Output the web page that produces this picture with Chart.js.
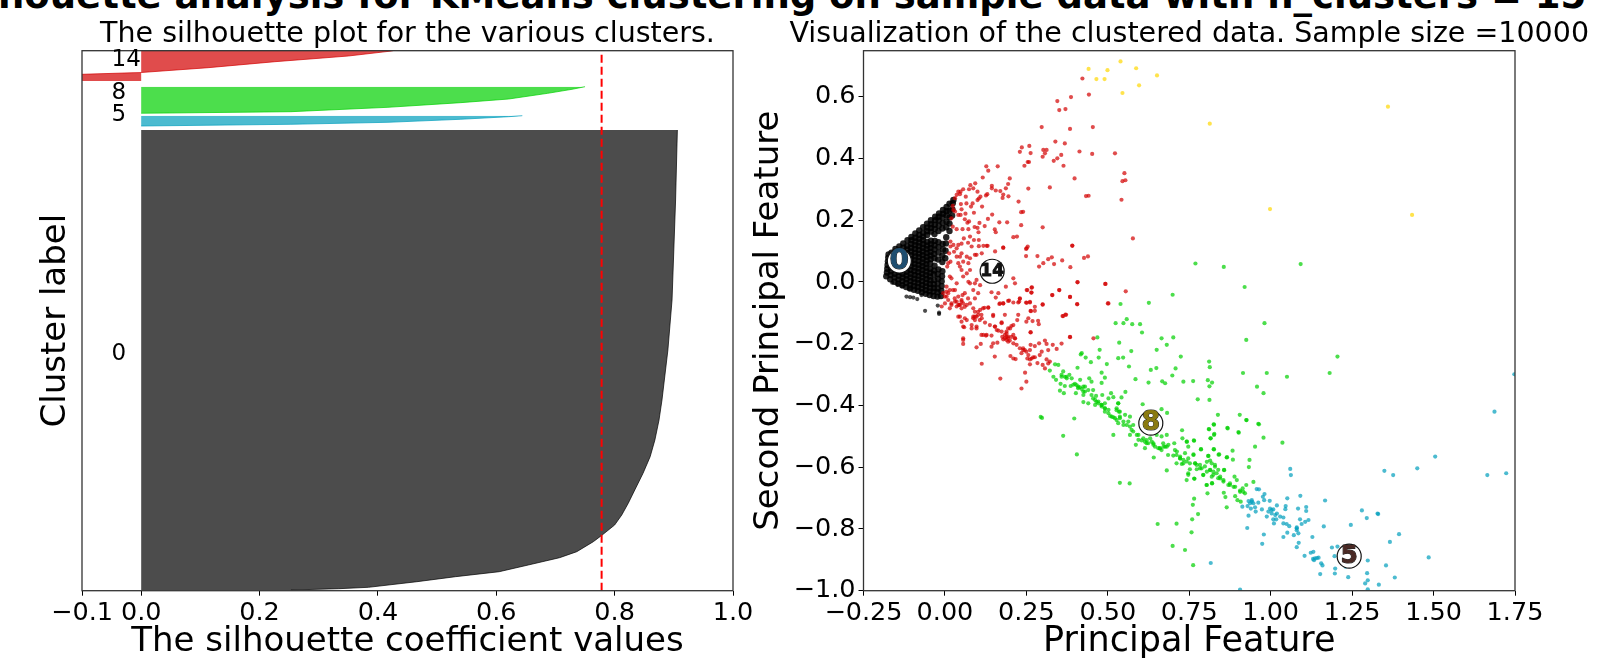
<!DOCTYPE html>
<html>
<head>
<meta charset="utf-8">
<title>Silhouette analysis</title>
<script src="https://cdn.jsdelivr.net/npm/chart.js@4/dist/chart.umd.js"></script>
<style>
  html, body { margin: 0; padding: 0; background: #fff; overflow: hidden; }
  #page { position: relative; width: 1606px; height: 658px; overflow: hidden; }
  canvas { position: absolute; top: 0; }
  #suptitle { position: absolute; left: -54px; width: 1606px; top: -26px; text-align: center; white-space: nowrap;
    font: bold 37px "DejaVu Sans"; color: #000; }
</style>
</head>
<body>
<div id="page">
  <div id="suptitle">Silhouette analysis for KMeans clustering on sample data with n_clusters = 15</div>
  <canvas id="silhouette" width="800" height="658" style="left:0"></canvas>
  <canvas id="clusters" width="866" height="658" style="left:740px"></canvas>
</div>
<script>
// left panel: [silhouette value, row in the sorted sample stack]
const silhouette0 = [[0.253,0],[0.334,13],[0.384,27],[0.466,83],[0.531,133],[0.605,183],[0.654,250],[0.707,323],[0.736,383],[0.764,483],[0.779,550],[0.8,650],[0.812,750],[0.823,867],[0.834,1000],[0.848,1167],[0.86,1333],[0.868,1500],[0.875,1700],[0.88,1900],[0.89,2400],[0.897,2900],[0.9,3400],[0.903,3900],[0.906,4600]];
const silhouette5 = [[0,4640],[0.253,4657],[0.417,4677],[0.539,4707],[0.621,4733],[0.644,4743]];
const silhouette8 = [[0,4767],[0.253,4783],[0.417,4827],[0.539,4873],[0.621,4910],[0.687,4967],[0.728,5007],[0.75,5033]];
const silhouette14 = [[-0.13,5090],[-0.125,5150],[-0.1,5157],[0,5175],[0.113,5223],[0.226,5283],[0.35,5340],[0.423,5390],[0.43,5400]];
const silhouetteLabels = [["14",5300],["8",4970],["5",4750],["0",2360]];
const silhouetteAvg = 0.778;
const leftXTicks = [-0.1,0,0.2,0.4,0.6,0.8,1];

// right panel: [first principal feature, second principal feature]
const cluster0 = [
[-0.18,0.014],[-0.178,0.026],[-0.177,0.038],[-0.176,0.05],[-0.175,0.062],[-0.174,0.074],[-0.173,0.084],
[-0.168,0.004],[-0.167,0.018],[-0.166,0.03],[-0.166,0.042],[-0.165,0.054],[-0.165,0.066],[-0.164,0.078],[-0.164,0.09],
[-0.155,-0.004],[-0.155,0.01],[-0.154,0.022],[-0.154,0.034],[-0.153,0.046],[-0.154,0.058],[-0.153,0.07],[-0.153,0.082],[-0.152,0.094],[-0.152,0.102],
[-0.143,-0.01],[-0.143,0.003],[-0.142,0.015],[-0.142,0.027],[-0.141,0.039],[-0.142,0.051],[-0.141,0.063],[-0.141,0.075],[-0.14,0.087],[-0.14,0.099],[-0.14,0.11],
[-0.131,-0.015],[-0.131,-0.002],[-0.13,0.01],[-0.13,0.022],[-0.129,0.034],[-0.13,0.046],[-0.129,0.058],[-0.129,0.07],[-0.129,0.082],[-0.128,0.094],[-0.128,0.106],[-0.128,0.12],
[-0.119,-0.021],[-0.119,-0.008],[-0.118,0.004],[-0.118,0.016],[-0.117,0.028],[-0.118,0.04],[-0.117,0.052],[-0.117,0.064],[-0.117,0.076],[-0.116,0.088],[-0.116,0.1],[-0.116,0.112],[-0.115,0.13],
[-0.107,-0.026],[-0.107,-0.014],[-0.106,-0.002],[-0.106,0.01],[-0.105,0.022],[-0.106,0.034],[-0.105,0.046],[-0.105,0.058],[-0.105,0.07],[-0.104,0.082],[-0.104,0.094],[-0.104,0.106],[-0.104,0.118],[-0.103,0.13],[-0.103,0.141],
[-0.095,-0.03],[-0.095,-0.018],[-0.094,-0.006],[-0.094,0.006],[-0.093,0.018],[-0.094,0.03],[-0.093,0.042],[-0.093,0.054],[-0.093,0.066],[-0.092,0.078],[-0.092,0.09],[-0.092,0.102],[-0.092,0.114],[-0.091,0.126],[-0.091,0.138],[-0.091,0.152],
[-0.083,-0.033],[-0.083,-0.021],[-0.082,-0.009],[-0.082,0.003],[-0.081,0.015],[-0.082,0.027],[-0.081,0.039],[-0.081,0.051],[-0.081,0.063],[-0.08,0.075],[-0.08,0.087],[-0.08,0.099],[-0.08,0.111],[-0.079,0.123],[-0.079,0.135],[-0.079,0.147],[-0.079,0.162],
[-0.071,-0.038],[-0.071,-0.026],[-0.07,-0.014],[-0.07,-0.002],[-0.069,0.01],[-0.07,0.022],[-0.069,0.034],[-0.069,0.046],[-0.069,0.058],[-0.068,0.07],[-0.068,0.082],[-0.068,0.094],[-0.068,0.106],[-0.067,0.118],[-0.067,0.13],[-0.067,0.142],[-0.067,0.154],[-0.067,0.172],
[-0.059,-0.043],[-0.059,-0.031],[-0.058,-0.019],[-0.058,-0.007],[-0.057,0.005],[-0.058,0.017],[-0.057,0.029],[-0.057,0.041],[-0.057,0.053],[-0.056,0.065],[-0.056,0.077],[-0.056,0.089],[-0.056,0.101],[-0.055,0.113],[-0.055,0.125],[-0.055,0.147],[-0.055,0.159],[-0.055,0.171],[-0.055,0.184],
[-0.047,-0.047],[-0.047,-0.035],[-0.046,-0.023],[-0.046,-0.011],[-0.045,0.001],[-0.046,0.013],[-0.045,0.025],[-0.045,0.037],[-0.045,0.055],[-0.044,0.069],[-0.044,0.081],[-0.044,0.093],[-0.044,0.105],[-0.043,0.117],[-0.043,0.129],[-0.043,0.158],[-0.043,0.17],[-0.043,0.182],[-0.043,0.195],
[-0.035,-0.05],[-0.035,-0.036],[-0.034,-0.024],[-0.034,-0.012],[-0.033,0.002],[-0.034,0.02],[-0.033,0.032],[-0.032,0.048],[-0.032,0.072],[-0.033,0.086],[-0.032,0.1],[-0.032,0.114],[-0.031,0.128],[-0.032,0.15],[-0.031,0.167],[-0.031,0.18],[-0.03,0.195],[-0.03,0.206],
[-0.023,-0.052],[-0.023,-0.038],[-0.022,-0.026],[-0.022,-0.01],[-0.021,0.006],[-0.022,0.02],[-0.02,0.036],[-0.021,0.068],[-0.02,0.09],[-0.02,0.108],[-0.02,0.124],[-0.02,0.16],[-0.019,0.178],[-0.019,0.194],[-0.019,0.206],[-0.018,0.217],
[-0.012,-0.05],[-0.011,-0.034],[-0.01,-0.018],[-0.01,-0.002],[-0.009,0.014],[-0.008,0.03],[-0.008,0.06],[-0.008,0.08],[-0.006,0.1],[-0.007,0.118],[-0.008,0.168],[-0.007,0.186],[-0.007,0.204],[-0.006,0.216],[-0.006,0.228],
[0.001,0.072],[0.002,0.096],[0.003,0.12],[0.004,0.14],[0.004,0.172],[0.005,0.19],[0.005,0.21],[0.005,0.224],[0.005,0.238],
[0.014,0.16],[0.014,0.184],[0.014,0.204],[0.014,0.226],[0.014,0.248],[0.022,0.21],[0.023,0.23],[0.024,0.25],[0.026,0.26]
];
const cluster0Stray = [[-0.162,-0.007],[-0.146,-0.014],[-0.131,-0.02],[-0.118,-0.052],[-0.107,-0.054],[-0.097,-0.055],[-0.085,-0.06],[-0.11,-0.028],[-0.072,-0.047],[-0.061,-0.098],[-0.018,-0.108],[-0.022,-0.081],[-0.018,-0.104]];
const cluster5 = [
[1.06,-0.609],[1.062,-0.629],[0.957,-0.674],[0.964,-0.675],[0.981,-0.69],[0.976,-0.699],[0.98,-0.71],[0.997,-0.712],[1.051,-0.704],[1.091,-0.696],[1.167,-0.711],[0.932,-0.713],[0.942,-0.71],[0.947,-0.72],[0.937,-0.72],[0.962,-0.718],[0.913,-0.731],[0.929,-0.729],[0.939,-0.737],[0.952,-0.733],[0.954,-0.747],[0.973,-0.74],[1.019,-0.727],[1.046,-0.729],[1.045,-0.739],[1.084,-0.737],[1.109,-0.732],[1.109,-0.745],[0.998,-0.737],[1.008,-0.74],[0.993,-0.747],[1.003,-0.753],[1.019,-0.753],[1.029,-0.763],[1.039,-0.766],[0.988,-0.763],[0.932,-0.76],[1.008,-0.772],[1.017,-0.772],[1.01,-0.785],[1.039,-0.785],[1.049,-0.787],[1.057,-0.794],[1.09,-0.772],[1.116,-0.774],[1.106,-0.78],[1.095,-0.787],[1.08,-0.798],[1.08,-0.807],[1.163,-0.795],[1.246,-0.79],[0.928,-0.8],[0.979,-0.821],[1.051,-0.815],[1.039,-0.829],[1.071,-0.823],[1.085,-0.817],[1.128,-0.829],[0.974,-0.851],[1.086,-0.848],[1.08,-0.862],[1.188,-0.863],[1.205,-0.86],[1.104,-0.89],[1.123,-0.88],[1.131,-0.877],[1.196,-0.891],[1.136,-0.898],[1.133,-0.904],[1.147,-0.896],[1.155,-0.914],[1.159,-0.921],[0.816,-0.913],[1.198,-0.931],[1.197,-0.947],[1.152,-0.949],[1.298,-0.905],[1.296,-0.946],[1.238,-0.959],[1.23,-0.925],[1.298,-0.969],[1.29,-0.979],[1.332,-0.983],[1.298,-0.998],[0.906,-0.999],[1.28,-0.743],[1.295,-0.768],[1.33,-0.755],
[1.748,-0.303],[1.687,-0.424],[1.505,-0.569],[1.45,-0.607],[1.349,-0.615],[1.376,-0.629],[1.665,-0.629],[1.723,-0.623],[1.394,-0.82],[1.366,-0.845],[1.328,-0.753],[1.485,-0.895],[1.354,-0.921],[1.381,-0.96],[1.13,-0.9],[1.142,-0.897],
[1.003,-0.742],[1.014,-0.758],[0.942,-0.715],[1.08,-0.801]
];
const cluster8 = [
[0.539,-0.076],[0.626,-0.072],[0.769,0.055],[0.856,0.044],[1.092,0.053],[0.92,-0.021],[0.699,-0.046],[0.981,-0.138],
[0.558,-0.125],[0.524,-0.138],[0.548,-0.138],[0.575,-0.141],[0.599,-0.141],[0.605,-0.168],[0.468,-0.184],[0.665,-0.187],[0.701,-0.184],[0.535,-0.201],[0.681,-0.208],[0.475,-0.224],[0.572,-0.228],[0.65,-0.224],[0.42,-0.235],[0.417,-0.239],[0.432,-0.249],[0.472,-0.249],[0.532,-0.251],[0.547,-0.249],[0.724,-0.246],[0.811,-0.262],[0.448,-0.264],[0.497,-0.27],[0.565,-0.278],[0.632,-0.289],[0.649,-0.283],[0.708,-0.284],[0.813,-0.28],[0.407,-0.282],[0.348,-0.273],[0.338,-0.271],[0.322,-0.291],[0.481,-0.298],[0.698,-0.307],[0.491,-0.314],[0.585,-0.319],[0.625,-0.33],[0.667,-0.326],[0.676,-0.332],[0.732,-0.327],[0.762,-0.325],[0.807,-0.322],[0.82,-0.33],[0.812,-0.342],[0.481,-0.331],
[0.333,-0.311],[0.341,-0.321],[0.358,-0.305],[0.368,-0.311],[0.382,-0.305],[0.389,-0.316],[0.363,-0.294],[0.355,-0.334],[0.368,-0.341],[0.386,-0.341],[0.399,-0.334],[0.415,-0.321],[0.443,-0.316],[0.45,-0.327],[0.409,-0.348],[0.425,-0.343],[0.44,-0.354],[0.455,-0.354],[0.402,-0.364],[0.425,-0.37],[0.45,-0.37],[0.353,-0.356],[0.365,-0.364],[0.464,-0.373],[0.483,-0.37],[0.51,-0.364],[0.554,-0.36],[0.502,-0.381],[0.517,-0.377],[0.542,-0.378],[0.776,-0.384],[0.812,-0.386],[0.425,-0.393],[0.44,-0.397],[0.471,-0.391],[0.461,-0.402],[0.481,-0.407],[0.491,-0.397],[0.532,-0.397],[0.527,-0.413],[0.534,-0.424],[0.607,-0.4],[0.665,-0.416],[0.682,-0.428],[0.502,-0.429],[0.512,-0.44],[0.491,-0.424],[0.522,-0.445],[0.537,-0.44],[0.553,-0.434],[0.568,-0.44],[0.563,-0.456],[0.532,-0.461],[0.548,-0.467],[0.578,-0.467],[0.573,-0.483],[0.594,-0.499],[0.609,-0.51],[0.63,-0.51],[0.65,-0.499],[0.665,-0.504],[0.681,-0.499],[0.67,-0.526],[0.66,-0.542],[0.681,-0.537],[0.619,-0.526],[0.64,-0.531],[0.614,-0.542],[0.641,-0.572],[0.685,-0.564],[0.681,-0.614],[0.294,-0.441],[0.298,-0.444],[0.397,-0.446],[0.363,-0.502],[0.405,-0.562],[0.517,-0.499],[0.586,-0.531],[0.537,-0.654],[0.567,-0.656],
[0.838,-0.434],[0.825,-0.465],[0.81,-0.48],[0.867,-0.476],[0.827,-0.496],[0.816,-0.51],[0.728,-0.484],[0.729,-0.51],[0.764,-0.517],[0.742,-0.521],[0.704,-0.526],[0.747,-0.537],[0.786,-0.545],[0.825,-0.545],[0.706,-0.548],[0.701,-0.566],[0.722,-0.575],[0.737,-0.558],[0.763,-0.564],[0.742,-0.585],[0.711,-0.591],[0.727,-0.593],[0.808,-0.567],[0.84,-0.563],[0.866,-0.571],[0.768,-0.591],[0.783,-0.596],[0.798,-0.601],[0.814,-0.582],[0.829,-0.596],[0.752,-0.61],[0.814,-0.612],[0.839,-0.612],[0.857,-0.612],[0.773,-0.61],[0.793,-0.628],[0.824,-0.628],[0.839,-0.639],[0.747,-0.628],[0.766,-0.641],[0.742,-0.645],[0.855,-0.65],[0.87,-0.661],[0.82,-0.655],[0.803,-0.661],
[0.926,-0.451],[0.964,-0.465],[0.902,-0.492],[0.978,-0.508],[1.036,-0.524],[0.952,-0.537],[0.883,-0.55],[0.865,-0.572],[0.884,-0.579],[0.935,-0.58],[0.933,-0.603],[0.947,-0.651],[0.889,-0.634],[0.896,-0.645],[0.875,-0.656],[0.886,-0.667],[0.855,-0.645],[0.906,-0.683],[0.921,-0.688],[0.914,-0.672],[0.925,-0.661],[0.891,-0.697],[0.898,-0.71],[0.908,-0.715],
[0.826,-0.466],[0.811,-0.481],[0.826,-0.499],[0.815,-0.51],[0.868,-0.478],[0.826,-0.546],[0.842,-0.562],[0.809,-0.567],[0.763,-0.562],[0.786,-0.546],[0.765,-0.518],[0.743,-0.521],[0.804,-0.586],[0.819,-0.591],[0.829,-0.602],[0.814,-0.613],[0.834,-0.623],[0.857,-0.613],[0.845,-0.634],[0.819,-0.634],[0.804,-0.661],[0.82,-0.656],[0.806,-0.688],[0.856,-0.686],[0.861,-0.7],
[0.865,-0.733],[0.765,-0.705],[0.761,-0.725],[0.777,-0.755],[0.759,-0.772],[0.757,-0.814],[0.711,-0.786],[0.653,-0.787],[0.699,-0.858],[0.737,-0.871],[0.762,-0.92],[0.747,-0.623],[0.765,-0.64],[0.788,-0.607],[0.793,-0.629],[0.768,-0.591],
[1.205,-0.246],[1.181,-0.299],[1.05,-0.311],[0.988,-0.299],[0.915,-0.299],[0.958,-0.343],[0.978,-0.364],[0.905,-0.434],[0.925,-0.451],[0.962,-0.463],[0.901,-0.49],[0.925,-0.192],
[0.358,-0.311],[0.374,-0.316],[0.394,-0.337],[0.409,-0.343],[0.42,-0.351],[0.43,-0.359],[0.461,-0.386],[0.471,-0.397],[0.481,-0.402],[0.491,-0.413],[0.502,-0.418],[0.507,-0.438],[0.517,-0.442],[0.527,-0.451],[0.537,-0.445],[0.548,-0.456],[0.558,-0.467],[0.568,-0.472],[0.578,-0.488],[0.589,-0.499],[0.604,-0.517],[0.614,-0.521],[0.624,-0.526],[0.635,-0.521],[0.645,-0.537],[0.655,-0.542],[0.665,-0.548],[0.676,-0.537],[0.686,-0.531],[0.568,-0.499],[0.594,-0.515],[0.711,-0.564],[0.722,-0.569],[0.732,-0.58],[0.747,-0.575],
[0.373,-0.311],[0.404,-0.338],[0.414,-0.345],[0.43,-0.343],[0.425,-0.359],[0.455,-0.381],[0.465,-0.392],[0.481,-0.402],[0.491,-0.413],[0.532,-0.397],[0.527,-0.419],[0.537,-0.424],
[0.619,-0.516],[0.64,-0.526],[0.66,-0.543],[0.671,-0.537],[0.712,-0.553],[0.722,-0.575],[0.732,-0.591],[0.752,-0.591],[0.773,-0.596],[0.783,-0.607],[0.804,-0.618],[0.824,-0.618],[0.845,-0.64],[0.875,-0.661],[0.891,-0.667],[0.906,-0.679],[0.916,-0.683]
];
const cluster14 = [
[0.422,0.653],[0.442,0.601],[0.387,0.593],[0.345,0.58],[0.351,0.551],[0.37,0.554],[0.297,0.496],[0.384,0.49],[0.454,0.496],[0.339,0.449],[0.368,0.443],[0.259,0.435],[0.236,0.43],[0.23,0.416],[0.263,0.412],[0.302,0.422],[0.312,0.422],[0.307,0.411],[0.3,0.4],[0.357,0.406],[0.345,0.395],[0.334,0.387],[0.413,0.417],[0.452,0.409],[0.522,0.411],[0.364,0.371],[0.244,0.371],[0.254,0.383],[0.258,0.383],[0.127,0.369],[0.162,0.369],[0.133,0.355],[0.116,0.333],[0.199,0.33],[0.194,0.312],[0.398,0.33],[0.551,0.347],[0.545,0.321],[0.554,0.324],[0.322,0.301],[0.256,0.297],[0.187,0.298],[0.093,0.314],[0.078,0.308],[0.144,0.306],[0.144,0.298],[0.156,0.291],[0.17,0.289],[0.179,0.278],[0.195,0.272],[0.177,0.267],[0.13,0.279],[0.126,0.275],[0.1,0.287],[0.087,0.298],[0.074,0.295],[0.056,0.295],[0.048,0.287],[0.046,0.279],[0.109,0.271],[0.104,0.265],[0.1,0.26],[0.064,0.271],[0.433,0.273],[0.441,0.274],[0.542,0.261],[0.226,0.255],[0.234,0.221],[0.24,0.222],[0.066,0.249],[0.085,0.249],[0.08,0.239],[0.049,0.247],[0.114,0.239],[0.051,0.23],[0.089,0.219],[0.063,0.216],[0.145,0.213],[0.132,0.199],[0.048,0.212],[0.061,0.198],[0.074,0.191],[0.069,0.187],[0.106,0.186],[0.167,0.188],[0.191,0.188],[0.234,0.179],[0.122,0.176],[0.091,0.173],[0.1,0.17],[0.072,0.166],[0.054,0.166],[0.3,0.172],[0.153,0.165],[0.156,0.156],[0.103,0.156],[0.077,0.142],[0.21,0.14],[0.221,0.142],[0.577,0.136],[0.058,0.136],[0.089,0.131],[0.104,0.131],[0.071,0.122],[0.051,0.119],[0.391,0.112],[0.254,0.11],[0.179,0.106],[0.104,0.111],[0.118,0.112],[0.131,0.112],[0.082,0.11],[0.249,0.102],
[0.041,0.287],[0.036,0.277],[0.031,0.266],[0.024,0.241],[0.026,0.228],[0.031,0.223],[0.02,0.201],[0.041,0.212],[0.024,0.174],[0.036,0.166],[0.017,0.126],[0.026,0.115],[0.036,0.104],[0.017,0.11],[0.028,0.093],[0.041,0.115],[0.013,0.088],[0.01,0.056],[0.007,0.045],[0.017,0.061],[0.036,0.077],[0.041,0.056],[0.015,0.013],[0.02,0.007],[0.005,-0.02],[-0.005,-0.041],[0.005,-0.036],[0.015,-0.031],[0.031,-0.031],[-0.01,-0.084],[0,-0.074],[0.01,-0.063],[0.02,-0.079],[0.031,-0.068],[0.036,-0.084],[0.041,-0.052],[0.044,-0.079],[0.041,-0.117],[0.015,-0.09],[0.005,-0.052],[0.036,-0.009],
[0.154,0.094],[0.179,0.106],[0.251,0.104],[0.249,0.079],[0.284,0.079],[0.302,0.056],[0.317,0.069],[0.289,0.045],[0.328,0.075],[0.335,0.053],[0.36,0.065],[0.391,0.113],[0.385,0.043],[0.427,0.073],[0.439,0.078],[0.21,0.007],[0.215,-0.009],[0.251,-0.031],[0.266,-0.023],[0.266,-0.039],[0.351,-0.031],[0.407,-0.006],[0.33,-0.047],[0.384,-0.053],[0.406,-0.076],[0.493,-0.011],[0.502,-0.074],[0.3,-0.077],[0.251,-0.072],[0.23,-0.059],[0.194,-0.066],[0.179,-0.074],[0.167,-0.076],[0.228,-0.068],[0.261,-0.069],[0.276,-0.098],[0.263,-0.098],[0.363,-0.115],[0.372,-0.111],[0.187,-0.02],[0.143,-0.038],[0.156,-0.055],[0.164,-0.041],[0.097,0.002],[0.077,-0.009],[0.108,-0.015],[0.087,-0.031],[0.061,-0.041],[0.051,-0.063],[0.067,-0.079],[0.102,-0.041],[0.092,-0.101],[0.108,-0.095],[0.133,-0.087],[0.121,-0.088],[0.148,-0.115],[0.097,-0.117],[0.067,-0.128],[0.082,-0.155],[0.097,-0.155],[0.051,-0.133],[0.056,-0.149],[0.113,-0.122],[0.174,-0.135],[0.154,-0.149],[0.118,-0.176],[0.128,-0.176],[0.159,-0.16],[0.174,-0.165],[0.189,-0.171],[0.2,-0.155],[0.21,-0.144],[0.184,-0.187],[0.194,-0.181],[0.215,-0.187],[0.263,-0.167],[0.384,-0.182],[0.456,-0.187],[0.056,-0.187],[0.087,-0.09],[0.113,0.088],[0.092,0.083],[0.077,0.072],[0.067,0.077],[0.046,0.045],[0.077,0.034],[0.067,0.023],[0.097,0.083],[0.128,0.112],[0.092,-0.009],[0.051,0.088],[0.046,0.077],[0.056,0.061],[0.072,0.056],[0.051,0.034],[0.056,0.013],[0.072,-0.004],
[0.056,-0.192],[0.056,-0.205],[0.11,-0.205],[0.097,-0.216],[0.143,-0.214],[0.148,-0.203],[0.161,-0.201],[0.176,-0.182],[0.189,-0.182],[0.179,-0.19],[0.199,-0.194],[0.215,-0.187],[0.194,-0.198],[0.21,-0.203],[0.22,-0.208],[0.23,-0.219],[0.24,-0.225],[0.25,-0.23],[0.235,-0.235],[0.263,-0.208],[0.276,-0.212],[0.289,-0.203],[0.307,-0.194],[0.312,-0.205],[0.331,-0.208],[0.358,-0.204],[0.343,-0.221],[0.297,-0.23],[0.261,-0.225],[0.291,-0.241],[0.317,-0.225],[0.276,-0.248],[0.261,-0.255],[0.253,-0.252],[0.201,-0.244],[0.21,-0.252],[0.217,-0.254],[0.153,-0.246],[0.113,-0.269],[0.261,-0.271],[0.284,-0.267],[0.312,-0.255],[0.322,-0.262],[0.3,-0.273],[0.307,-0.284],[0.246,-0.298],[0.25,-0.327],[0.17,-0.317],[0.235,-0.349],[0.317,-0.268],[0.271,-0.248],
[0.025,-0.031],[0.01,-0.041],[0,-0.052],[0.03,-0.058],[0.051,-0.068],[0.041,-0.079],[0.061,-0.085],[0.02,-0.074],[0.054,-0.047],[0.071,-0.058],[0.092,-0.058],[0.077,-0.074],[0.046,-0.117],[0.061,-0.122],[0.087,-0.117],[0.102,-0.101],[0.112,-0.111],[0.092,-0.128],[0.107,-0.128],[0.082,-0.144],[0.097,-0.149],[0.059,-0.151],[0.123,-0.136],[0.138,-0.144],[0.153,-0.149],[0.164,-0.162],[0.174,-0.138],[0.184,-0.111],[0.148,-0.111],[0.117,-0.09],[0.133,-0.088],[0.169,-0.074],[0.179,-0.074],[0.197,-0.065],[0.21,-0.071],[0.225,-0.071],[0.23,-0.058],[0.249,-0.071],[0.261,-0.071],[0.276,-0.085],[0.264,-0.099],[0.225,-0.111],[0.222,-0.128],[0.25,-0.133],[0.256,-0.122],[0.269,-0.131],[0.286,-0.13],[0.288,-0.141],[0.263,-0.168],[0.194,-0.155],[0.204,-0.147],[0.189,-0.165],[0.21,-0.176],[0.112,-0.176],[0.126,-0.178],[0.143,-0.178],[0.3,-0.078],[0.329,-0.047],[0.351,-0.031],[0.384,-0.053],[0.406,-0.077],[0.361,-0.115],[0.37,-0.11],[0.384,-0.183],[0.253,-0.031],[0.265,-0.039],[0.267,-0.022],[0.407,-0.005],[0.492,-0.011],[0.555,-0.035],[0.5,-0.074],
[0.036,-0.068],[0.046,-0.079],[0.056,-0.074],[0.051,-0.09],[0.092,-0.117],[0.102,-0.111],[0.087,-0.122],[0.184,-0.176],[0.194,-0.187],[0.204,-0.182],[0.189,-0.192],[0.245,-0.225],[0.256,-0.241],[0.266,-0.252],[0.24,-0.219]
];
const clusterYellow = [[0.441,0.684],[0.499,0.68],[0.539,0.708],[0.587,0.686],[0.651,0.663],[0.465,0.651],[0.49,0.651],[0.596,0.631],[0.545,0.606],[0.813,0.507],[1.36,0.562],[0.998,0.231],[1.434,0.212]];
const centers = [[-0.14,0.063],[0.145,0.03],[0.632,-0.461],[1.241,-0.891]];
const centerLabels = ["0","14","8","5"];
const rightXTicks = [-0.25,0,0.25,0.5,0.75,1,1.25,1.5,1.75];
const rightYTicks = [-1,-0.8,-0.6,-0.4,-0.2,0,0.2,0.4,0.6];
const silhouetteTitle = "The silhouette plot for the various clusters.";
const clustersTitle = "Visualization of the clustered data. Sample size =10000";

const FONT = '"DejaVu Sans"';
const AREA_TOP = 50.7;
const AXIS_H = 67.3;
const minus = (s) => s.replace("-", "\u2212");
const pts = (list) => list.map(([x, y]) => ({ x, y }));
// the y values above were read with y=0 at 280.6px, the ticks sit at 282px, so correct them here
const ptsRead = (list) => list.map(([x, y]) => ({ x, y: y * 1.0019 + 0.0045 }));

// marco completo de los ejes, chart.js solo pone izquierda y abajo
const frame = {
  id: "frame",
  afterDatasetsDraw(chart) {
    const { ctx, chartArea: a } = chart;
    ctx.save();
    ctx.strokeStyle = "#333";
    ctx.lineWidth = 1.3;
    ctx.strokeRect(a.left, a.top, a.right - a.left, a.bottom - a.top);
    ctx.restore();
  },
};

// el titulo de chart.js se centra en todo el canvas, aqui va centrado sobre los ejes
const panelTitle = {
  id: "panelTitle",
  afterDraw(chart, args, opts) {
    const { ctx, chartArea: a } = chart;
    ctx.save();
    ctx.font = "28.5px " + FONT;
    ctx.fillStyle = "#000";
    ctx.textAlign = "center";
    ctx.textBaseline = "alphabetic";
    ctx.fillText(opts.text, (a.left + a.right) / 2, 42);
    ctx.restore();
  },
};

const bandLabels = {
  id: "bandLabels",
  afterDatasetsDraw(chart) {
    const { ctx, scales } = chart;
    ctx.save();
    ctx.font = "23px " + FONT;
    ctx.fillStyle = "#000";
    ctx.textAlign = "left";
    ctx.textBaseline = "middle";
    silhouetteLabels.forEach(([t, y]) => ctx.fillText(t, scales.x.getPixelForValue(-0.05), scales.y.getPixelForValue(y)));
    ctx.restore();
  },
};

const centerText = {
  id: "centerText",
  afterDatasetsDraw(chart) {
    const { ctx, scales } = chart;
    const styles = { "0": ["#1f4e70", 28], "14": ["#111", 17], "8": ["#8a7a10", 27], "5": ["#4a2a25", 25] };
    ctx.save();
    ctx.textAlign = "center";
    ctx.textBaseline = "middle";
    ctx.lineJoin = "round";
    centers.forEach(([x, y], i) => {
      const t = centerLabels[i];
      ctx.font = "bold " + styles[t][1] + "px " + FONT;
      const px = scales.x.getPixelForValue(x), py = scales.y.getPixelForValue(y + 0.003);
      ctx.strokeStyle = "#222";
      ctx.lineWidth = 1;
      ctx.strokeText(t, px, py);
      ctx.fillStyle = styles[t][0];
      ctx.fillText(t, px, py);
    });
    ctx.restore();
  },
};

function axisX(min, max, ticks, decimals, label, size) {
  return {
    type: "linear", min, max,
    grid: { display: true, drawOnChartArea: false, drawTicks: true, tickLength: 5, tickColor: "#000", tickWidth: 1 },
    border: { display: false },
    afterBuildTicks: (s) => { s.ticks = ticks.map((value) => ({ value })); },
    afterFit: (s) => { s.height = AXIS_H; },
    ticks: { color: "#000", font: { family: FONT, size: 25.5 }, padding: 2, maxRotation: 0, autoSkip: false,
      callback: (v) => minus(Number(v).toFixed(decimals)) },
    title: { display: true, text: label, color: "#000", font: { family: FONT, size }, padding: { top: 0, bottom: -5 } },
  };
}

function silhouetteSet(list, color, order) {
  return { data: pts(list), borderColor: color, backgroundColor: color, borderWidth: 1, pointRadius: 0, tension: 0, fill: { value: 0 }, order };
}

new Chart(document.getElementById("silhouette"), {
  type: "line",
  data: {
    datasets: [
      { data: pts([[silhouetteAvg, -7], [silhouetteAvg, 5393]]), borderColor: "#ff0000", borderWidth: 2, borderDash: [8, 4], pointRadius: 0, fill: false, order: 0 },
      silhouetteSet(silhouette14, "rgba(211,0,0,0.7)", 1),
      silhouetteSet(silhouette8, "rgba(0,208,0,0.7)", 2),
      silhouetteSet(silhouette5, "rgba(0,158,188,0.7)", 3),
      silhouetteSet(silhouette0, "rgba(0,0,0,0.7)", 4),
    ],
  },
  plugins: [frame, bandLabels, panelTitle],
  options: {
    indexAxis: "y",
    responsive: false,
    animation: false,
    devicePixelRatio: 1,
    layout: { autoPadding: false, padding: { right: 67, left: 0, top: AREA_TOP, bottom: 0 } },
    plugins: { legend: { display: false }, tooltip: { enabled: false }, panelTitle: { text: silhouetteTitle } },
    scales: {
      x: axisX(-0.1, 1, leftXTicks, 1, "The silhouette coefficient values", 34),
      y: {
        type: "linear", min: -7, max: 5393,
        grid: { display: false }, border: { display: false }, ticks: { display: false },
        afterFit: (s) => { s.width = 82; },
        title: { display: true, text: "Cluster label", color: "#000", font: { family: FONT, size: 34 }, padding: { top: 36, bottom: 0 } },
      },
    },
  },
});

function scatterSet(list, color, order, radius) {
  return { data: ptsRead(list), backgroundColor: color, borderWidth: 0, pointRadius: radius || 2.1, order };
}

new Chart(document.getElementById("clusters"), {
  type: "scatter",
  data: {
    datasets: [
      { data: ptsRead(centers), backgroundColor: "#fff", borderColor: "#111", borderWidth: 1.2, pointRadius: 12, order: 0 },
      scatterSet(clusterYellow, "rgba(255,215,0,0.7)", 1),
      scatterSet(cluster14, "rgba(211,0,0,0.7)", 2),
      scatterSet(cluster8, "rgba(0,208,0,0.7)", 3),
      scatterSet(cluster5, "rgba(0,158,188,0.7)", 4),
      scatterSet(cluster0Stray, "rgba(0,0,0,0.7)", 5),
      scatterSet(cluster0, "rgba(0,0,0,0.85)", 6, 3.2),
    ],
  },
  plugins: [frame, centerText, panelTitle],
  options: {
    responsive: false,
    animation: false,
    devicePixelRatio: 1,
    layout: { autoPadding: false, padding: { right: 91, left: 0, top: AREA_TOP, bottom: 0 } },
    plugins: { legend: { display: false }, tooltip: { enabled: false }, panelTitle: { text: clustersTitle } },
    scales: {
      x: axisX(-0.25, 1.75, rightXTicks, 2, "Principal Feature", 35),
      y: {
        type: "linear", min: -1, max: 0.7487,
        grid: { display: true, drawOnChartArea: false, drawTicks: true, tickLength: 5, tickColor: "#000", tickWidth: 1 },
        border: { display: false },
        afterBuildTicks: (s) => { s.ticks = rightYTicks.map((value) => ({ value })); },
        afterFit: (s) => { s.width = 123.5; },
        ticks: { color: "#000", font: { family: FONT, size: 25.5 }, padding: 3, callback: (v) => minus(Number(v).toFixed(1)) },
        title: { display: true, text: "Second Principal Feature", color: "#000", font: { family: FONT, size: 34 }, padding: { top: 9, bottom: 0 } },
      },
    },
  },
});
</script>
</body>
</html>
